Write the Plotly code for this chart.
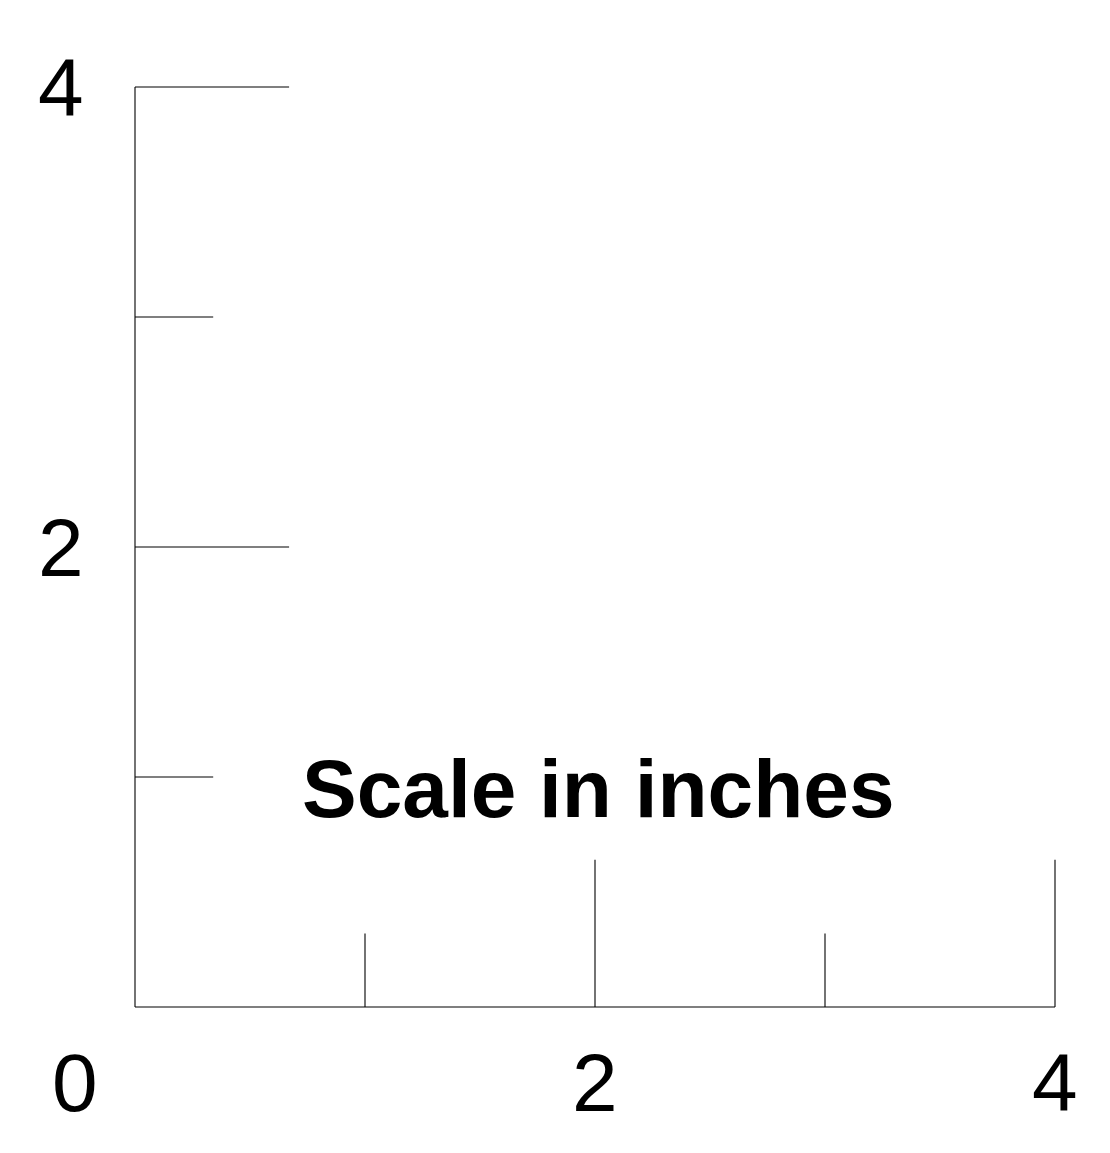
import plotly.graph_objects as go

# Scale bar geometry (inches)
axis_x = [0, 4]
axis_y = [0, 4]
x_tick_pos = [1, 2, 3, 4]
x_tick_len = [0.32, 0.64, 0.32, 0.64]
y_tick_pos = [1, 2, 3, 4]
y_tick_len = [0.34, 0.67, 0.34, 0.67]

x_labels = ["0", "2", "4"]
x_label_pos = [-0.26, 2.0, 4.0]
x_label_y = -0.33
y_labels = ["2", "4"]
y_label_pos = [2.0, 4.0]
y_label_x = -0.32

title_text = "Scale in inches"
title_pos = (2.015, 0.95)

LINE = dict(color="#000000", width=1.1)

fig = go.Figure()

# main axes lines
fig.add_trace(go.Scatter(x=[axis_x[0], axis_x[1]], y=[0, 0], mode="lines", line=LINE, showlegend=False, hoverinfo="skip"))
fig.add_trace(go.Scatter(x=[0, 0], y=[axis_y[0], axis_y[1]], mode="lines", line=LINE, showlegend=False, hoverinfo="skip"))

# x ticks
for p, l in zip(x_tick_pos, x_tick_len):
    fig.add_trace(go.Scatter(x=[p, p], y=[0, l], mode="lines", line=LINE, showlegend=False, hoverinfo="skip"))
# y ticks
for p, l in zip(y_tick_pos, y_tick_len):
    fig.add_trace(go.Scatter(x=[0, l], y=[p, p], mode="lines", line=LINE, showlegend=False, hoverinfo="skip"))

FONT = "Liberation Sans, Arial, Helvetica, sans-serif"
for t, p in zip(x_labels, x_label_pos):
    fig.add_annotation(x=p, y=x_label_y, text=t, showarrow=False, xanchor="center", yanchor="middle",
                       font=dict(family=FONT, size=82, color="black"))
for t, p in zip(y_labels, y_label_pos):
    fig.add_annotation(x=y_label_x, y=p, text=t, showarrow=False, xanchor="center", yanchor="middle",
                       font=dict(family=FONT, size=82, color="black"))
fig.add_annotation(x=title_pos[0], y=title_pos[1], text="<b>" + title_text + "</b>", showarrow=False,
                   xanchor="center", yanchor="middle",
                   font=dict(family=FONT, size=82, color="black"))

W, H = 1102, 1145
px_per_in = 230
x0_px, y0_px = 127, 999
fig.update_layout(
    width=W, height=H,
    margin=dict(l=0, r=0, t=0, b=0),
    paper_bgcolor="white", plot_bgcolor="white",
    xaxis=dict(range=[-x0_px / px_per_in, (W - x0_px) / px_per_in], visible=False, fixedrange=True),
    yaxis=dict(range=[-(H - y0_px) / px_per_in, y0_px / px_per_in], visible=False, fixedrange=True),
    showlegend=False,
)

fig.write_html("out.html", config={"displayModeBar": False})
